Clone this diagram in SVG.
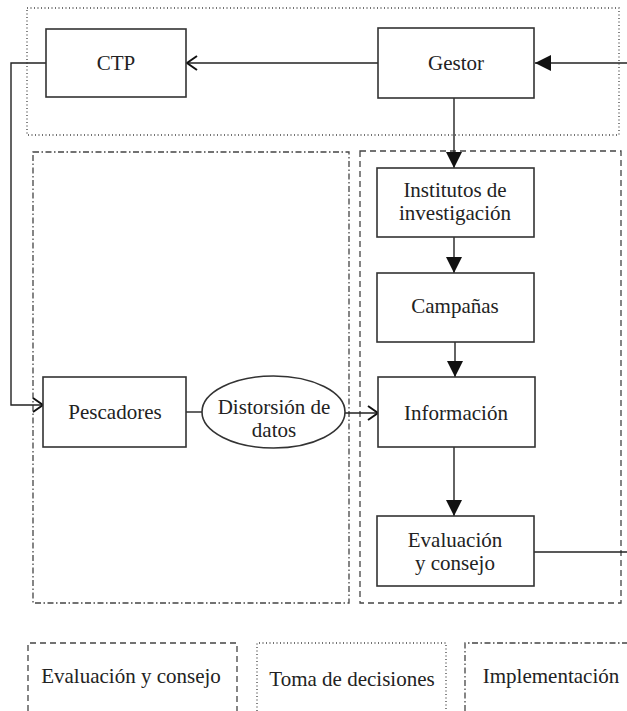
<svg xmlns="http://www.w3.org/2000/svg" width="627" height="711" viewBox="0 0 627 711">
<defs>
<style>
.box{fill:#fff;stroke:#333;stroke-width:1.6}
.ln{fill:none;stroke:#222;stroke-width:1.4}
.dot{fill:none;stroke:#444;stroke-width:1.3;stroke-dasharray:1 2.5}
.dash{fill:none;stroke:#444;stroke-width:1.3;stroke-dasharray:6 4}
.dd{fill:none;stroke:#444;stroke-width:1.3;stroke-dasharray:6 2.5 1.5 2.5}
.t{font-family:'Liberation Serif','Times New Roman','DejaVu Serif',serif;font-size:21px;fill:#222;text-anchor:middle}
</style>
<marker id="tri" viewBox="0 0 16 16" refX="16" refY="8" markerWidth="16" markerHeight="16" markerUnits="userSpaceOnUse" orient="auto">
<path d="M0,0 L16,8 L0,16 Z" fill="#111"/>
</marker>
<marker id="open" viewBox="0 0 12 16" refX="11" refY="8" markerWidth="12" markerHeight="16" markerUnits="userSpaceOnUse" orient="auto">
<path d="M1,1 L11,8 L1,15" fill="none" stroke="#111" stroke-width="2"/>
</marker>
</defs>
<g id="regions">
<rect class="dot" x="27" y="8" width="592" height="127"/>
<rect class="dd" x="33" y="152" width="316" height="451"/>
<rect class="dash" x="360" y="151" width="261" height="452"/>
</g>
<g id="legend" class="t" font-family="Liberation Serif, serif">
<path class="dash" d="M28,711 V643 H237 V711"/>
<text x="131" y="683">Evaluación y consejo</text>
<path class="dot" d="M257,711 V643 H446 V711"/>
<text x="352" y="686">Toma de decisiones</text>
<path class="dd" d="M465,711 V643 H627"/>
<text x="551" y="683">Implementación</text>
</g>
<g id="connectors">
<line class="ln" x1="627" y1="63" x2="535" y2="63" marker-end="url(#tri)"/>
<line class="ln" x1="378" y1="63" x2="187" y2="63" marker-end="url(#open)"/>
<path class="ln" d="M46,63 H11 V405 H43" marker-end="url(#open)"/>
<line class="ln" x1="454" y1="98" x2="454" y2="168" marker-end="url(#tri)"/>
<line class="ln" x1="454" y1="237" x2="454" y2="273" marker-end="url(#tri)"/>
<line class="ln" x1="455" y1="342" x2="455" y2="377" marker-end="url(#tri)"/>
<line class="ln" x1="454" y1="447" x2="454" y2="516" marker-end="url(#tri)"/>
<line class="ln" x1="186" y1="412" x2="202" y2="412"/>
<line class="ln" x1="345" y1="413" x2="378" y2="413" marker-end="url(#open)"/>
<line class="ln" x1="534" y1="552" x2="627" y2="552"/>
</g>
<g id="ctp" class="t">
<rect class="box" x="46" y="29" width="140" height="68"/>
<text x="116" y="70">CTP</text>
</g>
<g id="gestor" class="t">
<rect class="box" x="378" y="28" width="156" height="70"/>
<text x="456" y="70">Gestor</text>
</g>
<g id="institutos" class="t">
<rect class="box" x="377" y="168" width="157" height="69"/>
<text x="455" y="197">Institutos de</text>
<text x="455" y="220">investigación</text>
</g>
<g id="campanas" class="t">
<rect class="box" x="377" y="273" width="157" height="69"/>
<text x="455" y="313">Campañas</text>
</g>
<g id="informacion" class="t">
<rect class="box" x="378" y="377" width="157" height="70"/>
<text x="456" y="420">Información</text>
</g>
<g id="evaluacion" class="t">
<rect class="box" x="377" y="516" width="157" height="70"/>
<text x="455" y="547">Evaluación</text>
<text x="455" y="570">y consejo</text>
</g>
<g id="pescadores" class="t">
<rect class="box" x="43" y="377" width="143" height="70"/>
<text x="115" y="419">Pescadores</text>
</g>
<g id="distorsion" class="t">
<ellipse class="box" cx="273.5" cy="412" rx="71.5" ry="36"/>
<text x="274" y="414">Distorsión de</text>
<text x="274" y="437">datos</text>
</g>
</svg>
